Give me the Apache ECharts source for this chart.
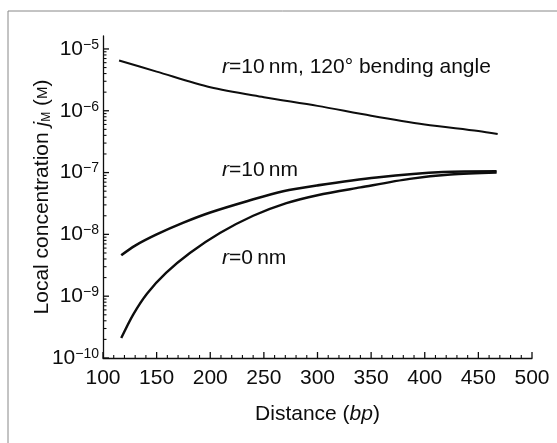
<!DOCTYPE html>
<html>
<head>
<meta charset="utf-8">
<script src="https://cdn.jsdelivr.net/npm/echarts@6/dist/echarts.min.js"></script>
<style>
html, body { margin: 0; padding: 0; background: #fff; }
#chart { width: 557px; height: 443px; }
</style>
</head>
<body>
<div id="chart"></div>
<script>
// r = 10 nm, 120 degree bending angle
var distBend = [115, 150, 200, 250, 300, 350, 400, 450, 468];
var concBend = [6.5e-6, 4.3e-6, 2.4e-6, 1.66e-6, 1.2e-6, 8.3e-7, 6.0e-7, 4.7e-7, 4.2e-7];
// r = 10 nm
var distR10 = [117, 130, 150, 175, 200, 235, 268, 300, 355, 417, 467];
var concR10 = [4.6e-9, 6.6e-9, 1.0e-8, 1.55e-8, 2.26e-8, 3.47e-8, 5.0e-8, 6.2e-8, 8.3e-8, 1.02e-7, 1.05e-7];
// r = 0 nm
var distR0 = [117, 128, 141, 159, 181, 209, 240, 271, 300, 340, 386, 424, 467];
var concR0 = [2.1e-10, 5.0e-10, 1.1e-9, 2.4e-9, 5.0e-9, 1.05e-8, 2.0e-8, 3.2e-8, 4.3e-8, 5.75e-8, 7.9e-8, 9.3e-8, 1.0e-7];

// tick positions
var xMajor = [100, 150, 200, 250, 300, 350, 400, 450, 500];
var yDecades = [1e-10, 1e-9, 1e-8, 1e-7, 1e-6, 1e-5];

var FONT = 'Liberation Sans';
var INK = '#0d0d0d';
var FS = 21;
var X0 = 100, Y0 = 1e-10;

// [x, y, direction (0 = up from x axis, 1 = right from y axis), length]
var tickData = [];
for (var x = 100; x <= 500; x += 10) {
    tickData.push([x, Y0, 0, xMajor.indexOf(x) >= 0 ? 6 : 3]);
}
for (var n = -10; n < -5; n++) {
    for (var k = 1; k <= 9; k++) {
        tickData.push([X0, k * Math.pow(10, n), 1, k === 1 ? 6 : 3.5]);
    }
}
tickData.push([X0, 1e-5, 1, 6]);

function zip(xs, ys) {
    var out = [];
    for (var i = 0; i < xs.length; i++) out.push([xs[i], ys[i]]);
    return out;
}

function curve(name, xs, ys, w) {
    return {
        name: name,
        type: 'line',
        smooth: 0.3,
        showSymbol: false,
        symbol: 'none',
        data: zip(xs, ys),
        lineStyle: { color: INK, width: w }
    };
}

function label(text, top) {
    return {
        type: 'text', left: 222, top: top,
        style: {
            text: '{i|r}{t|' + text + '}',
            rich: {
                i: { fontFamily: FONT, fontSize: FS, fontStyle: 'italic', fill: INK },
                t: { fontFamily: FONT, fontSize: FS, fill: INK }
            }
        }
    };
}

var chart = echarts.init(document.getElementById('chart'));

chart.setOption({
    grid: { left: 103, right: 25, top: 36, bottom: 85 },
    xAxis: {
        type: 'value',
        min: 100,
        max: 500,
        interval: 50,
        name: 'Distance ({i|bp})',
        nameLocation: 'middle',
        nameGap: 46,
        nameTextStyle: {
            fontFamily: FONT, fontSize: FS, color: INK,
            rich: { i: { fontFamily: FONT, fontSize: FS, fontStyle: 'italic', color: INK } }
        },
        axisLine: { show: true, lineStyle: { color: INK, width: 1.3 } },
        axisTick: { show: false },
        axisLabel: { margin: 10, fontFamily: FONT, fontSize: FS, color: INK },
        splitLine: { show: false }
    },
    yAxis: {
        type: 'log',
        min: 1e-10,
        max: 1.62e-5,
        name: 'Local concentration {j|j}{sub|M} ({sc|M})',
        nameLocation: 'middle',
        nameMoveOverlap: false,
        nameGap: 50,
        nameTextStyle: {
            fontFamily: FONT, fontSize: FS, color: INK,
            rich: {
                j: { fontFamily: FONT, fontSize: FS, fontStyle: 'italic', color: INK },
                sub: { fontFamily: FONT, fontSize: 12, color: INK, verticalAlign: 'bottom' },
                sc: { fontFamily: FONT, fontSize: 15, color: INK }
            }
        },
        axisLine: { show: true, lineStyle: { color: INK, width: 1.3 } },
        axisTick: { show: false },
        axisLabel: {
            show: true,
            margin: 4,
            formatter: function (v) {
                var e = Math.log(v) / Math.LN10;
                if (Math.abs(e - Math.round(e)) > 1e-6) return '';
                return '{b|10}{s|\u2212' + (-Math.round(e)) + '}';
            },
            rich: {
                b: { fontFamily: FONT, fontSize: FS, color: INK, lineHeight: 22 },
                s: { fontFamily: FONT, fontSize: 14, color: INK, lineHeight: 14, verticalAlign: 'top' }
            }
        },
        splitLine: { show: false }
    },
    series: [
        curve('r=10 nm, 120° bending angle', distBend, concBend, 2),
        curve('r=10 nm', distR10, concR10, 2.6),
        curve('r=0 nm', distR0, concR0, 2.4),
        {
            name: 'ticks',
            type: 'custom',
            clip: false,
            silent: true,
            encode: { x: 0, y: 1 },
            data: tickData,
            renderItem: function (params, api) {
                var p = api.coord([api.value(0), api.value(1)]);
                var dir = api.value(2);
                var len = api.value(3);
                var x2 = dir === 1 ? p[0] + len : p[0];
                var y2 = dir === 1 ? p[1] : p[1] - len;
                return {
                    type: 'line',
                    shape: { x1: p[0], y1: p[1], x2: x2, y2: y2 },
                    style: { stroke: INK, lineWidth: len > 5 ? 1.3 : 1.1 }
                };
            }
        }
    ],
    graphic: [
        { type: 'line', shape: { x1: 8, y1: 11, x2: 557, y2: 11 }, style: { stroke: '#888', lineWidth: 1 } },
        { type: 'line', shape: { x1: 8, y1: 11, x2: 8, y2: 443 }, style: { stroke: '#888', lineWidth: 1 } },
        label('=10\u2009nm, 120° bending angle', 57),
        label('=10\u2009nm', 160),
        label('=0\u2009nm', 248)
    ]
});
</script>
</body>
</html>
